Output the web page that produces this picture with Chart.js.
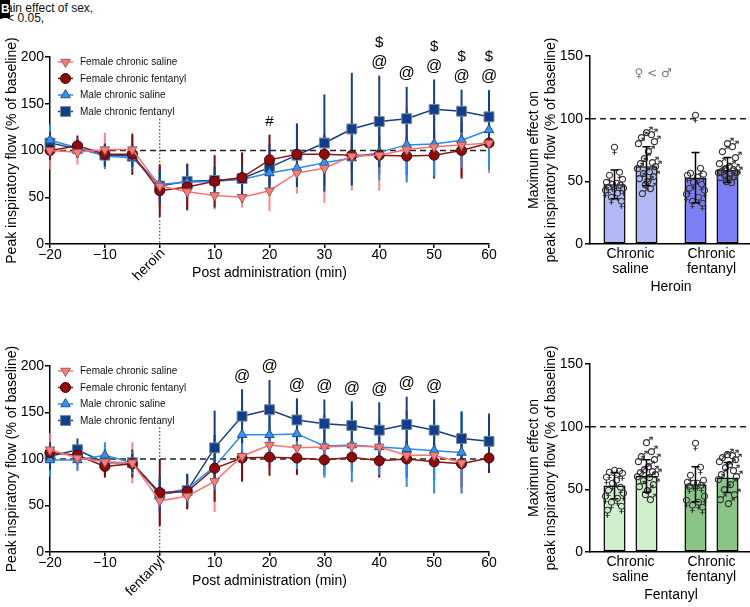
<!DOCTYPE html>
<html>
<head>
<meta charset="utf-8">
<script src="https://cdn.jsdelivr.net/npm/chart.js@4.4.1/dist/chart.umd.min.js"></script>
<style>
  html, body { margin: 0; padding: 0; background: #fff; overflow: hidden; }
  body { width: 750px; height: 607px; position: relative; }
  canvas { position: absolute; }
  #heroinLine { left: 0; top: 0; }
  #fentanylLine { left: 0; top: 310px; }
  #heroinBar { left: 500px; top: 0; }
  #fentanylBar { left: 500px; top: 310px; }
  .note { position: absolute; left: -4px; font: 12px "Liberation Sans", Arial, sans-serif; line-height: 12px; color: #111; white-space: nowrap; }
  .badge { position: absolute; left: 0; top: 0; width: 10px; height: 18px; background: #000; color: #fff; font: bold 12px "Liberation Sans", Arial, sans-serif; line-height: 18px; overflow: hidden; text-indent: 1px; }
</style>
</head>
<body>
<div class="note" style="top:2px">Main effect of sex,</div>
<div class="note" style="top:12px">P &lt; 0.05,</div>
<div class="badge">B</div>
<canvas id="heroinLine" width="500" height="300"></canvas>
<canvas id="fentanylLine" width="500" height="297"></canvas>
<canvas id="heroinBar" width="252" height="310"></canvas>
<canvas id="fentanylBar" width="252" height="300"></canvas>
<script>
// ---- data: time course (min after injection) ----
const times = [-20, -15, -10, -5, 0, 5, 10, 15, 20, 25, 30, 35, 40, 45, 50, 55, 60];
const xTicks = [-20, -10, 0, 10, 20, 30, 40, 50, 60];
const yTicksLine = [0, 50, 100, 150, 200];
const yTicksBar = [0, 50, 100, 150];
const seriesNames = ['Female chronic saline', 'Female chronic fentanyl', 'Male chronic saline', 'Male chronic fentanyl'];

// heroin challenge
const heroinFemaleSaline   = [100, 98, 101, 101, 62, 56, 52, 50, 57, 76, 81, 94, 95, 101, 104, 106, 108];
const heroinFemaleSalineSd = [20, 13, 18, 15, 22, 18, 15, 11, 22, 22, 37, 37, 38, 35, 32, 33, 32];
const heroinFemaleFent     = [100, 105, 96, 96, 57, 61, 67, 71, 90, 96, 96, 95, 95, 94, 95, 100, 108];
const heroinFemaleFentSd   = [10, 11, 12, 22, 28, 25, 28, 27, 27, 31, 20, 18, 20, 20, 25, 30, 15];
const heroinMaleSaline     = [111, 103, 94, 92, 64, 66, 67, 69, 76, 81, 87, 92, 98, 106, 107, 111, 122];
const heroinMaleSalineSd   = [17, 10, 14, 12, 15, 14, 12, 12, 18, 20, 25, 30, 30, 40, 35, 30, 43];
const heroinMaleFent       = [108, 102, 95, 94, 62, 67, 68, 70, 82, 95, 108, 123, 131, 134, 144, 142, 136];
const heroinMaleFentSd     = [12, 10, 12, 12, 18, 18, 15, 15, 25, 34, 52, 60, 49, 34, 32, 23, 28];
const heroinMarkTimes   = [20, 40, 45, 50, 55, 60];
const heroinMarkSymbols = [['#'], ['@', '$'], ['@'], ['@', '$'], ['@', '$'], ['@', '$']];

// fentanyl challenge
const fentFemaleSaline   = [110, 101, 97, 96, 55, 60, 76, 103, 115, 112, 113, 114, 113, 104, 104, 96, null];
const fentFemaleSalineSd = [18, 12, 14, 22, 25, 14, 33, 28, 25, 20, 22, 25, 25, 25, 25, 33, null];
const fentFemaleFent     = [107, 104, 92, 95, 64, 65, 90, 101, 102, 101, 99, 102, 98, 100, 97, 95, 101];
const fentFemaleFentSd   = [10, 10, 12, 15, 36, 19, 36, 25, 20, 18, 16, 15, 18, 20, 20, 25, 16];
const fentMaleSaline     = [99, 99, 104, 96, 62, 68, 92, 126, 126, 127, 114, 115, 113, 111, 109, 107, null];
const fentMaleSalineSd   = [18, 12, 14, 12, 15, 15, 25, 30, 30, 38, 34, 40, 30, 41, 46, 44, null];
const fentMaleFent       = [103, 110, 96, 96, 62, 66, 112, 146, 153, 142, 138, 136, 131, 137, 131, 122, 119];
const fentMaleFentSd     = [15, 12, 10, 10, 20, 18, 40, 29, 32, 23, 26, 26, 30, 30, 33, 29, 30];
const fentMarkTimes   = [15, 20, 25, 30, 35, 40, 45, 50];
const fentMarkSymbols = [['@'], ['@'], ['@'], ['@'], ['@'], ['@'], ['@'], ['@']];

// ---- data: maximum effect bars ----
const barGroups = [['Chronic', 'saline'], ['Chronic', 'fentanyl']];

const heroinBarFemale   = [47.6, 53];
const heroinBarFemaleSd = [11.5, 20];
const heroinBarMale     = [62, 59];
const heroinBarMaleSd   = [15.5, 10];
const heroinPtsFemaleSaline = [78, 58, 55, 52, 50, 49, 48, 47, 46, 45, 43, 41, 38, 35];
const heroinPtsMaleSaline   = [87, 85, 83, 80, 78, 72, 66, 63, 62, 60, 58, 56, 54, 52, 50, 48, 45, 42, 38];
const heroinPtsFemaleFent   = [103, 61, 57, 56, 55, 54, 50, 48, 45, 43, 40, 38, 35, 33];
const heroinPtsMaleFent     = [78, 76, 72, 67, 62, 60, 58, 57, 56, 55, 55, 54, 53, 52, 51, 50, 48, 47];

const fentBarFemale   = [53, 54];
const fentBarFemaleSd = [10.5, 14];
const fentBarMale     = [60.6, 59.5];
const fentBarMaleSd   = [13, 12];
const fentPtsFemaleSaline = [66, 65, 64, 63, 60, 58, 55, 52, 50, 47, 45, 43, 40, 37, 34];
const fentPtsMaleSaline   = [85, 78, 74, 72, 70, 66, 64, 62, 61, 60, 58, 57, 55, 52, 50, 47, 44, 40];
const fentPtsFemaleFent   = [87, 68, 62, 58, 56, 55, 55, 54, 53, 45, 42, 40, 38, 36];
const fentPtsMaleFent     = [76, 75, 73, 72, 70, 68, 65, 63, 60, 58, 56, 52, 48, 44, 40, 37];

// ---- styles ----
const FONT = '"Liberation Sans", Arial, sans-serif';
Chart.defaults.font.family = FONT;
Chart.defaults.color = '#000';

const seriesStyle = [
  { line: '#ff7272', fill: '#ff7b7b', edge: '#8f5f5f', err: 'rgba(255,112,112,0.85)', shape: 'triangle', rot: 180, r: 5.5 },
  { line: '#8e1414', fill: '#8b0d0d', edge: '#4d0000', err: '#7c0a0a', shape: 'circle', rot: 0, r: 5 },
  { line: '#2b8cf2', fill: '#3a90f0', edge: '#1f4f8c', err: '#2b8cf2', shape: 'triangle', rot: 0, r: 5.5 },
  { line: '#173f80', fill: '#0f3f8a', edge: '#7b8698', err: '#163f85', shape: 'rect', rot: 0, r: 7 }
];
const jitter = [0, 5, -5, 8, -8, 2, -2, 6, -6, 9, -9, 3, -3, 7, -7, 1, -1, 4, -4];

// error bars, reference lines, legend, drug label and significance marks
function lineExtras(drug, markTimes, markSymbols) {
  return {
    id: 'lineExtras',
    beforeDatasetsDraw(chart) {
      const { ctx, chartArea, scales: { x, y } } = chart;
      ctx.save();
      // baseline 100 %
      ctx.strokeStyle = '#222';
      ctx.lineWidth = 1.5;
      ctx.setLineDash([6, 4]);
      ctx.beginPath();
      ctx.moveTo(chartArea.left, y.getPixelForValue(100));
      ctx.lineTo(chartArea.right, y.getPixelForValue(100));
      ctx.stroke();
      // injection time
      ctx.lineWidth = 1;
      ctx.setLineDash([1.5, 2]);
      ctx.beginPath();
      ctx.moveTo(x.getPixelForValue(0), y.getPixelForValue(134));
      ctx.lineTo(x.getPixelForValue(0), chartArea.bottom);
      ctx.stroke();
      ctx.setLineDash([]);
      // SD bars
      chart.data.datasets.forEach(ds => {
        ctx.strokeStyle = ds.errColor;
        ctx.lineWidth = 2;
        ds.data.forEach((p, i) => {
          if (p.y == null || ds.sd[i] == null) return;
          const px = x.getPixelForValue(p.x);
          ctx.beginPath();
          ctx.moveTo(px, y.getPixelForValue(p.y - ds.sd[i]));
          ctx.lineTo(px, y.getPixelForValue(p.y + ds.sd[i]));
          ctx.stroke();
        });
      });
      ctx.restore();
    },
    afterDraw(chart) {
      const { ctx, chartArea, scales: { x, y } } = chart;
      ctx.save();
      // legend
      chart.data.datasets.forEach((ds, k) => {
        const ly = chartArea.top + 5 + k * 16.5;
        const lx = chartArea.left + 15.5;
        ctx.strokeStyle = ds.borderColor;
        ctx.lineWidth = 1.5;
        ctx.beginPath();
        ctx.moveTo(lx - 7.5, ly);
        ctx.lineTo(lx + 7.5, ly);
        ctx.stroke();
        ctx.fillStyle = ds.pointBackgroundColor;
        ctx.strokeStyle = ds.pointBorderColor;
        ctx.lineWidth = 1;
        Chart.helpers.drawPoint(ctx, { pointStyle: ds.pointStyle, rotation: ds.pointRotation, radius: ds.pointRadius, borderWidth: 1 }, lx, ly);
        ctx.fillStyle = '#111';
        ctx.font = '10px ' + FONT;
        ctx.textAlign = 'left';
        ctx.textBaseline = 'middle';
        ctx.fillText(ds.label, chartArea.left + 30, ly + 0.5);
      });
      // rotated drug name at t = 0
      ctx.save();
      ctx.translate(x.getPixelForValue(0) + 3, chartArea.bottom + 7);
      ctx.rotate(-Math.PI / 4);
      ctx.font = '14px ' + FONT;
      ctx.fillStyle = '#000';
      ctx.textAlign = 'right';
      ctx.textBaseline = 'middle';
      ctx.fillText(drug, 0, 0);
      ctx.restore();
      // significance symbols above the highest SD bar
      ctx.fillStyle = '#000';
      ctx.textAlign = 'center';
      ctx.textBaseline = 'middle';
      markTimes.forEach((t, j) => {
        const i = times.indexOf(t);
        let top = -Infinity;
        chart.data.datasets.forEach(ds => {
          const v = ds.data[i].y;
          if (v != null) top = Math.max(top, v + ds.sd[i]);
        });
        let py = y.getPixelForValue(top) - 13;
        markSymbols[j].forEach(sym => {
          ctx.font = (sym === '@' ? '16px ' : '15px ') + FONT;
          ctx.fillText(sym, x.getPixelForValue(t), py);
          py -= 20;
        });
      });
      ctx.restore();
    }
  };
}

function makeLineChart(id, drug, values, sds, markTimes, markSymbols, pad) {
  const datasets = values.map((vals, k) => {
    const s = seriesStyle[k];
    return {
      label: seriesNames[k],
      data: times.map((t, i) => ({ x: t, y: vals[i] })),
      sd: sds[k],
      errColor: s.err,
      borderColor: s.line,
      backgroundColor: s.fill,
      pointBackgroundColor: s.fill,
      pointBorderColor: s.edge,
      pointBorderWidth: 1,
      pointStyle: s.shape,
      pointRotation: s.rot,
      pointRadius: s.r,
      borderWidth: 1.5,
      tension: 0,
      clip: false
    };
  });
  return new Chart(document.getElementById(id), {
    type: 'line',
    data: { datasets },
    options: {
      responsive: false,
      animation: false,
      events: [],
      layout: { padding: pad },
      plugins: { legend: { display: false }, tooltip: { enabled: false } },
      scales: {
        x: {
          type: 'linear',
          min: xTicks[0],
          max: xTicks[xTicks.length - 1],
          afterBuildTicks: s => { s.ticks = xTicks.map(v => ({ value: v })); },
          afterFit: s => { s.height = 42; },
          ticks: {
            font: { size: 14 },
            color: '#000',
            padding: -1,
            maxRotation: 0,
            autoSkip: false,
            callback: v => v === 0 ? '' : (v < 0 ? '\u2212' + Math.abs(v) : String(v))
          },
          grid: { drawOnChartArea: false, drawTicks: true, tickLength: 4, color: '#000', lineWidth: 1.5 },
          border: { color: '#000', width: 1.5 },
          title: { display: true, text: 'Post administration (min)', font: { size: 14 }, color: '#000' }
        },
        y: {
          min: 0,
          max: 200,
          afterBuildTicks: s => { s.ticks = yTicksLine.map(v => ({ value: v })); },
          afterFit: s => { s.width = 50; },
          ticks: { font: { size: 14 }, color: '#000', padding: 1 },
          grid: { drawOnChartArea: false, drawTicks: true, tickLength: 5, color: '#000', lineWidth: 1.5 },
          border: { color: '#000', width: 1.5 },
          title: { display: true, text: 'Peak inspiratory flow (% of baseline)', font: { size: 14 }, color: '#000' }
        }
      }
    },
    plugins: [lineExtras(drug, markTimes, markSymbols)]
  });
}

// dashed baseline, individual animals and SD bars for the bar panels
function barExtras(note) {
  return {
    id: 'barExtras',
    beforeDatasetsDraw(chart) {
      const { ctx, chartArea, scales: { y } } = chart;
      ctx.save();
      ctx.strokeStyle = '#222';
      ctx.lineWidth = 1.5;
      ctx.setLineDash([6, 4]);
      ctx.beginPath();
      ctx.moveTo(chartArea.left, y.getPixelForValue(100));
      ctx.lineTo(chartArea.right, y.getPixelForValue(100));
      ctx.stroke();
      ctx.restore();
    },
    afterDatasetsDraw(chart) {
      const { ctx, chartArea, scales: { y } } = chart;
      ctx.save();
      chart.data.datasets.forEach((ds, di) => {
        const meta = chart.getDatasetMeta(di);
        meta.data.forEach((bar, j) => {
          // animals
          ctx.fillStyle = '#333';
          ctx.font = '13px "DejaVu Sans"';
          ctx.textAlign = 'center';
          ctx.textBaseline = 'middle';
          ds.pts[j].forEach((v, k) => {
            const px = bar.x + jitter[k % jitter.length];
            const py = y.getPixelForValue(v);
            if (ds.glyph === '\u2640') ctx.fillText(ds.glyph, px, py + 3);
            else ctx.fillText(ds.glyph, px + 1, py - 2.5);
          });
          // SD with caps
          const top = y.getPixelForValue(ds.data[j] + ds.sd[j]);
          const bot = y.getPixelForValue(ds.data[j] - ds.sd[j]);
          ctx.strokeStyle = '#000';
          ctx.lineWidth = 1.5;
          ctx.beginPath();
          ctx.moveTo(bar.x, top); ctx.lineTo(bar.x, bot);
          ctx.moveTo(bar.x - 4, top); ctx.lineTo(bar.x + 4, top);
          ctx.moveTo(bar.x - 4, bot); ctx.lineTo(bar.x + 4, bot);
          ctx.stroke();
        });
      });
      if (note) {
        ctx.fillStyle = '#777';
        ctx.font = '12px "DejaVu Sans"';
        ctx.textAlign = 'center';
        ctx.textBaseline = 'middle';
        ctx.fillText(note, chartArea.left + 0.39 * (chartArea.right - chartArea.left), y.getPixelForValue(136));
      }
      ctx.restore();
    }
  };
}

function makeBarChart(id, drug, colors, fMeans, fSd, mMeans, mSd, fPts, mPts, note, pad) {
  return new Chart(document.getElementById(id), {
    type: 'bar',
    data: {
      labels: barGroups,
      datasets: [
        { label: 'Female', data: fMeans, sd: fSd, pts: fPts, glyph: '\u2640', backgroundColor: colors, borderColor: '#000', borderWidth: 1.5, borderSkipped: false },
        { label: 'Male', data: mMeans, sd: mSd, pts: mPts, glyph: '\u2642', backgroundColor: colors, borderColor: '#000', borderWidth: 1.5, borderSkipped: false }
      ]
    },
    options: {
      responsive: false,
      animation: false,
      events: [],
      layout: { padding: pad },
      datasets: { bar: { categoryPercentage: 0.79, barPercentage: 0.69 } },
      plugins: { legend: { display: false }, tooltip: { enabled: false } },
      scales: {
        x: {
          afterFit: s => { s.height = 56; },
          ticks: { font: { size: 14, lineHeight: 1.1 }, color: '#000', padding: 2 },
          grid: { display: false, drawTicks: false },
          border: { color: '#000', width: 1.5 },
          title: { display: true, text: drug, font: { size: 14 }, color: '#000' }
        },
        y: {
          min: 0,
          max: 150,
          afterBuildTicks: s => { s.ticks = yTicksBar.map(v => ({ value: v })); },
          afterFit: s => { s.width = 68; },
          ticks: { font: { size: 14 }, color: '#000', padding: 2 },
          grid: { drawOnChartArea: false, drawTicks: true, tickLength: 5, color: '#000', lineWidth: 1.5 },
          border: { color: '#000', width: 1.5 },
          title: { display: true, text: ['Maximum effect on', 'peak inspiratory flow (% of baseline)'], font: { size: 14 }, color: '#000' }
        }
      }
    },
    plugins: [barExtras(note)]
  });
}

makeLineChart('heroinLine', 'heroin',
  [heroinFemaleSaline, heroinFemaleFent, heroinMaleSaline, heroinMaleFent],
  [heroinFemaleSalineSd, heroinFemaleFentSd, heroinMaleSalineSd, heroinMaleFentSd],
  heroinMarkTimes, heroinMarkSymbols,
  { top: 57, right: 11, bottom: 14, left: 0 });

makeLineChart('fentanylLine', 'fentanyl',
  [fentFemaleSaline, fentFemaleFent, fentMaleSaline, fentMaleFent],
  [fentFemaleSalineSd, fentFemaleFentSd, fentMaleSalineSd, fentMaleFentSd],
  fentMarkTimes, fentMarkSymbols,
  { top: 56, right: 11, bottom: 13, left: 0 });

makeBarChart('heroinBar', 'Heroin', ['#b1b8f6', '#7c7ff3'],
  heroinBarFemale, heroinBarFemaleSd, heroinBarMale, heroinBarMaleSd,
  [heroinPtsFemaleSaline, heroinPtsFemaleFent], [heroinPtsMaleSaline, heroinPtsMaleFent],
  '\u2640 < \u2642',
  { top: 56, right: 0, bottom: 10, left: 22 });

makeBarChart('fentanylBar', 'Fentanyl', ['#cfeecb', '#88c586'],
  fentBarFemale, fentBarFemaleSd, fentBarMale, fentBarMaleSd,
  [fentPtsFemaleSaline, fentPtsFemaleFent], [fentPtsMaleSaline, fentPtsMaleFent],
  null,
  { top: 54, right: 0, bottom: 2, left: 22 });
</script>
</body>
</html>
